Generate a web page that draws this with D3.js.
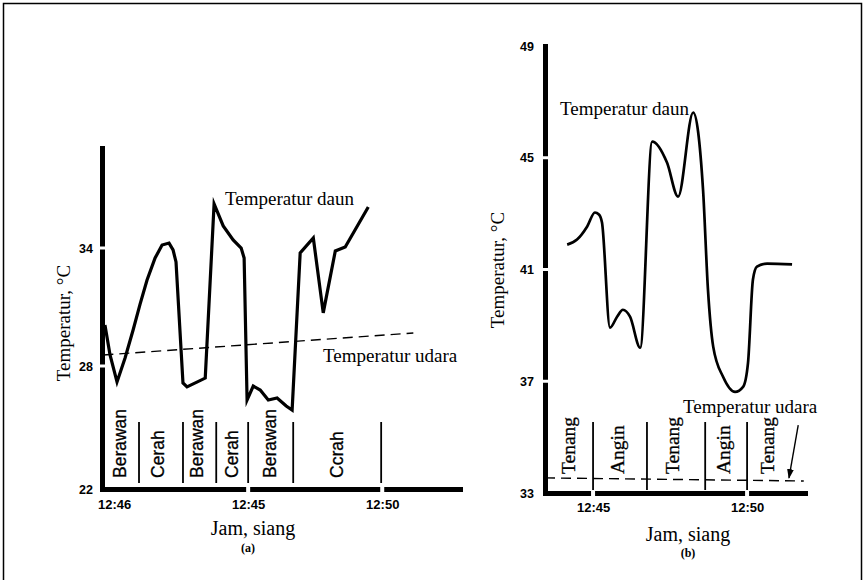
<!DOCTYPE html>
<html><head><meta charset="utf-8">
<script src="https://cdn.jsdelivr.net/npm/d3@7"></script>
<style>
body{margin:0;background:#fff}
svg{display:block}
</style></head><body>
<svg id="c" width="866" height="580"></svg>
<script>
// ---------- Chart (a) data ----------
const aXTicks = [40, 45, 50];
const aXTickLabels = ["12:46", "12:45", "12:50"];
const aYTicks = [22, 28, 34];
const aYGaps = [28, 34];
const aXGaps = [45, 50];
const aLeafTime = [39.66, 39.85, 40.11, 40.41, 40.71, 40.97, 41.23, 41.53, 41.79, 42.05, 42.20, 42.31, 42.57, 42.72, 43.40, 43.73, 44.07, 44.44, 44.74, 44.85, 44.96, 45.19, 45.45, 45.75, 46.08, 46.42, 46.64, 46.94, 47.43, 47.80, 48.25, 48.62, 49.48];
const aLeafTemp = [30.09, 28.56, 27.22, 28.41, 29.83, 31.15, 32.37, 33.49, 34.15, 34.25, 33.90, 33.29, 27.17, 26.98, 27.41, 36.24, 35.12, 34.41, 34.00, 33.49, 26.34, 27.02, 26.83, 26.34, 26.44, 26.05, 25.85, 33.75, 34.51, 30.70, 33.85, 34.05, 36.08];
const aAirTime = [39.6, 51.16];
const aAirTemp = [28.56, 29.68];
const aDividers = [40.93, 42.57, 43.81, 45, 46.68, 49.96];
const aSegLabels = ["Berawan", "Cerah", "Berawan", "Cerah", "Berawan", "Ccrah"];
const aSegCenters = [40.22, 41.64, 43.10, 44.40, 45.82, 48.32];

// ---------- Chart (b) data ----------
const bXTicks = [45, 50];
const bXTickLabels = ["12:45", "12:50"];
const bYTicks = [33, 37, 41, 45, 49];
const bYGaps = [37, 41, 45];
const bXGaps = [45, 50];
const bLeafTime = [44.16, 44.48, 44.81, 45.06, 45.19, 45.29, 45.55, 45.78, 45.97, 46.20, 46.53, 46.92, 47.40, 47.76, 48.25, 48.57, 48.73, 48.90, 49.22, 49.61, 49.87, 50.03, 50.19, 50.32, 50.65, 51.46];
const bLeafTemp = [41.89, 42.07, 42.54, 43.04, 42.97, 42.68, 38.92, 39.31, 39.56, 39.31, 38.20, 45.58, 44.83, 43.61, 46.62, 43.86, 40.28, 38.24, 37.16, 36.62, 36.80, 37.66, 40.64, 41.10, 41.21, 41.18];
const bAirTime = [43.44, 51.84];
const bAirTemp = [33.54, 33.43];
const bDividers = [45, 46.75, 48.64, 50];
const bSegLabels = ["Tenang", "Angin", "Tenang", "Angin", "Tenang"];
const bSegCenters = [44.19, 45.78, 47.56, 49.22, 50.65];

const svg = d3.select("#c");
const SERIF = "'Liberation Serif','Times New Roman',serif";
const TICKFONT = "'Liberation Sans Narrow','Liberation Sans',Arial,sans-serif";

// frame
svg.append("path").attr("d", "M3.5,580V3.5H861.5V580").attr("fill", "none").attr("stroke", "#000").attr("stroke-width", 1.5);

function drawChart(cfg) {
  const g = svg.append("g");
  const {x, y} = cfg;
  const [x0, x1] = x.range();
  const yb = y(y.domain()[0]);

  // y axis
  const ya = g.append("g").attr("transform", `translate(${x0},0)`)
    .call(d3.axisLeft(y).tickValues(cfg.yTicks).tickSize(0).tickSizeOuter(0).tickPadding(cfg.yPad).tickFormat(d3.format("d")));
  ya.select(".domain").attr("stroke-width", 5).attr("stroke-linecap", "square");
  ya.selectAll("text").attr("font-family", TICKFONT).attr("font-weight", "bold").attr("font-size", 12.5);
  cfg.yGaps.forEach(v => ya.append("rect").attr("x", -4).attr("width", 8).attr("y", y(v) - 1.5).attr("height", 3).attr("fill", "#fff"));

  // x axis
  const xa = g.append("g").attr("transform", `translate(0,${yb})`)
    .call(d3.axisBottom(x).tickValues(cfg.xTicks).tickSize(0).tickSizeOuter(0).tickPadding(cfg.xPad).tickFormat((d, i) => cfg.xTickLabels[i]));
  xa.select(".domain").attr("stroke-width", 5).attr("stroke-linecap", "square");
  xa.selectAll("text").attr("font-family", TICKFONT).attr("font-weight", "bold").attr("font-size", 13);
  cfg.xGaps.forEach(v => xa.append("rect").attr("y", -4).attr("height", 8).attr("x", x(v) - 2).attr("width", 4).attr("fill", "#fff"));

  // dividers
  g.selectAll(".div").data(cfg.dividers).join("line")
    .attr("x1", d => x(d)).attr("x2", d => x(d))
    .attr("y1", yb - cfg.divTop).attr("y2", yb - cfg.divBot)
    .attr("stroke", "#000").attr("stroke-width", 1.8);

  // segment labels
  g.selectAll(".seg").data(cfg.segLabels).join("text")
    .attr("transform", (d, i) => `translate(${x(cfg.segCenters[i])},${yb - cfg.segBase}) rotate(-90)`)
    .attr("dy", "0.35em")
    .attr("font-family", cfg.segFont).attr("font-size", cfg.segSize)
    .attr("stroke", "#000").attr("stroke-width", 0.3)
    .text(d => d);

  // air temperature dashed
  const airData = cfg.airTime.map((t, i) => [t, cfg.airTemp[i]]);
  g.append("path").datum(airData)
    .attr("d", d3.line().x(d => x(d[0])).y(d => y(d[1])))
    .attr("fill", "none").attr("stroke", "#000").attr("stroke-width", 1.4).attr("stroke-dasharray", "10,6");

  // leaf temperature
  const leafData = cfg.leafTime.map((t, i) => [t, cfg.leafTemp[i]]);
  g.append("path").datum(leafData)
    .attr("d", d3.line().curve(cfg.curve).x(d => x(d[0])).y(d => y(d[1])))
    .attr("fill", "none").attr("stroke", "#000").attr("stroke-width", cfg.leafW)
    .attr("stroke-linejoin", "miter").attr("stroke-miterlimit", 6);
  return g;
}

// Chart (a)
const xA = d3.scaleLinear().domain([39.55, 52.9]).range([102, 460]);
const yA = d3.scaleLinear().domain([22, 28, 34, 39.08]).range([489, 366, 248, 148]);
drawChart({
  x: xA, y: yA, yTicks: aYTicks, yGaps: aYGaps, xTicks: aXTicks, xTickLabels: aXTickLabels, xGaps: aXGaps,
  yPad: 9, xPad: 11, dividers: aDividers, divTop: 67, divBot: 6,
  segLabels: aSegLabels, segCenters: aSegCenters, segBase: 11, segFont: "'Liberation Sans',Arial,sans-serif", segSize: 17.5,
  airTime: aAirTime, airTemp: aAirTemp, leafTime: aLeafTime, leafTemp: aLeafTemp,
  curve: d3.curveLinear, leafW: 3.2
});

// Chart (b)
const xB = d3.scaleLinear().domain([43.44, 51.88]).range([545, 805]);
const yB = d3.scaleLinear().domain([33, 49]).range([493, 46]);
drawChart({
  x: xB, y: yB, yTicks: bYTicks, yGaps: bYGaps, xTicks: bXTicks, xTickLabels: bXTickLabels, xGaps: bXGaps,
  yPad: 11, xPad: 10, dividers: bDividers, divTop: 71, divBot: 3,
  segLabels: bSegLabels, segCenters: bSegCenters, segBase: 19, segFont: SERIF, segSize: 19.5,
  airTime: bAirTime, airTemp: bAirTemp, leafTime: bLeafTime, leafTemp: bLeafTemp,
  curve: d3.curveMonotoneX, leafW: 2.7
});

// texts
function txt(x, y, s, opts = {}) {
  return svg.append("text").attr("x", x).attr("y", y)
    .attr("font-family", opts.font || SERIF).attr("font-size", opts.size || 19)
    .attr("font-weight", opts.weight || "normal")
    .attr("text-anchor", opts.anchor || "start").text(s);
}
txt(225, 205, "Temperatur daun");
txt(323, 362, "Temperatur udara");
txt(560, 115, "Temperatur daun");
txt(683, 413, "Temperatur udara");
txt(253, 535, "Jam, siang", {anchor: "middle", size: 20});
txt(688, 541, "Jam, siang", {anchor: "middle", size: 20});
txt(248, 552, "(a)", {anchor: "middle", size: 12, weight: "bold"});
txt(688, 557, "(b)", {anchor: "middle", size: 12, weight: "bold"});

svg.append("text").attr("transform", "translate(70,323) rotate(-90)").attr("text-anchor", "middle")
  .attr("font-family", SERIF).attr("font-size", 19).text("Temperatur, °C");
svg.append("text").attr("transform", "translate(504,270) rotate(-90)").attr("text-anchor", "middle")
  .attr("font-family", SERIF).attr("font-size", 19).text("Temperatur, °C");

// arrow (b)
svg.append("defs").append("marker").attr("id", "ah").attr("viewBox", "0 0 10 10")
  .attr("refX", 9).attr("refY", 5).attr("markerWidth", 7).attr("markerHeight", 7).attr("orient", "auto")
  .append("path").attr("d", "M0,1.5L10,5L0,8.5Z").attr("fill", "#000");
svg.append("line")
  .attr("x1", xB(51.66)).attr("y1", yB(35.43)).attr("x2", xB(51.36)).attr("y2", yB(33.54))
  .attr("stroke", "#000").attr("stroke-width", 1.4).attr("marker-end", "url(#ah)");
</script>
</body></html>
